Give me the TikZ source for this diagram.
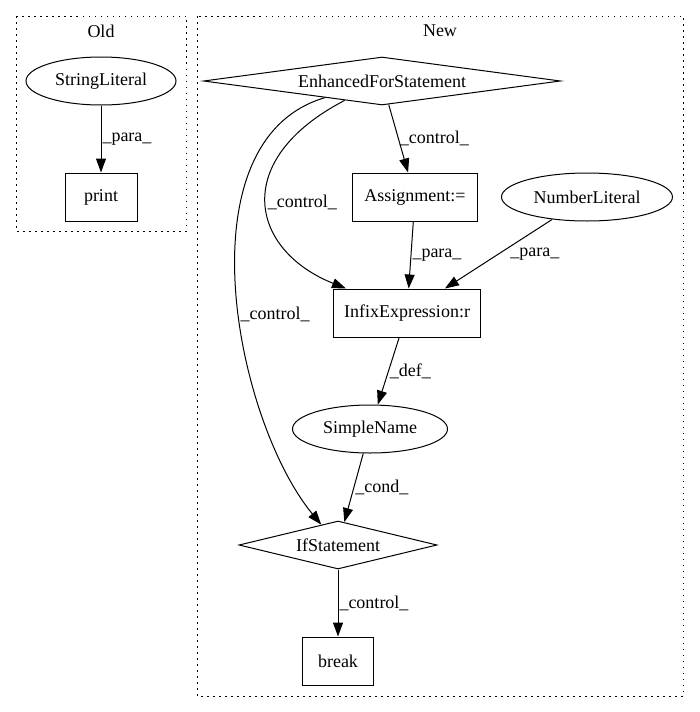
\documentclass[tikz,border=0pt]{standalone}
\usepackage{fontspec}
\setmainfont{Liberation Serif}
\usetikzlibrary{shapes.geometric,arrows.meta}
\tikzset{
  box/.style={draw, rectangle, inner sep=0pt, minimum height=48pt},
  ell/.style={draw, ellipse, inner sep=0pt, minimum height=48pt},
  dia/.style={draw, diamond, shape aspect=6, inner sep=0pt, minimum height=48pt},
  lbl/.style={inner sep=1pt},
  cluster/.style={dash pattern=on 1.5pt off 4.5pt, line width=1pt}
}
\begin{document}
\begin{tikzpicture}[x=1pt, y=-1pt, line width=1pt,
    font=\fontsize{18}{22}\selectfont,
    >={Triangle[length=14pt,width=10pt]}]
  \useasboundingbox (0,0) rectangle (699,712);
  %Clusters
  \draw[cluster] (16,16) rectangle (186,231);
  \draw[cluster] (197,16) rectangle (683,696);
  \node at (101,31) (old) {Old};
  \node at (440,31) (new) {New};

  %Nodes
  \node[ell, minimum width=150pt] at (101,81)  (strlit) {StringLiteral};
  \node[box, minimum width=72pt]  at (101,197) (print)  {print};
  \node[dia, minimum width=357pt] at (382,81)  (efs)    {EnhancedForStatement};
  \node[box, minimum width=125pt] at (415,197) (assign) {Assignment:=};
  \node[ell, minimum width=171pt] at (587,197) (numlit) {NumberLiteral};
  \node[box, minimum width=147pt] at (407,313) (infix)  {InfixExpression:r};
  \node[ell, minimum width=155pt] at (370,429) (sname)  {SimpleName};
  \node[dia, minimum width=198pt] at (338,545) (ifs)    {IfStatement};
  \node[box, minimum width=71pt]  at (338,661) (brk)    {break};

  %Lines
  \draw[->] (strlit) -- node[midway, right, lbl] {\_para\_} (print);
  \draw[->] (efs) -- node[midway, right, lbl] {\_control\_} (assign);
  \draw[->] (efs) .. controls (230,160) and (250,250) .. node[pos=0.5, right, lbl] {\_control\_} (infix);
  \draw[->] (efs) .. controls (180,140) and (235,420) .. node[pos=0.55, right, lbl] {\_control\_} (ifs);
  \draw[->] (assign) -- node[midway, right, lbl] {\_para\_} (infix);
  \draw[->] (numlit) -- node[midway, right=8pt] {\_para\_} (infix);
  \draw[->] (infix) -- node[midway, right, lbl] {\_def\_} (sname);
  \draw[->] (sname) -- node[midway, right, lbl] {\_cond\_} (ifs);
  \draw[->] (ifs) -- node[midway, right, lbl] {\_control\_} (brk);
\end{tikzpicture}
\end{document}
